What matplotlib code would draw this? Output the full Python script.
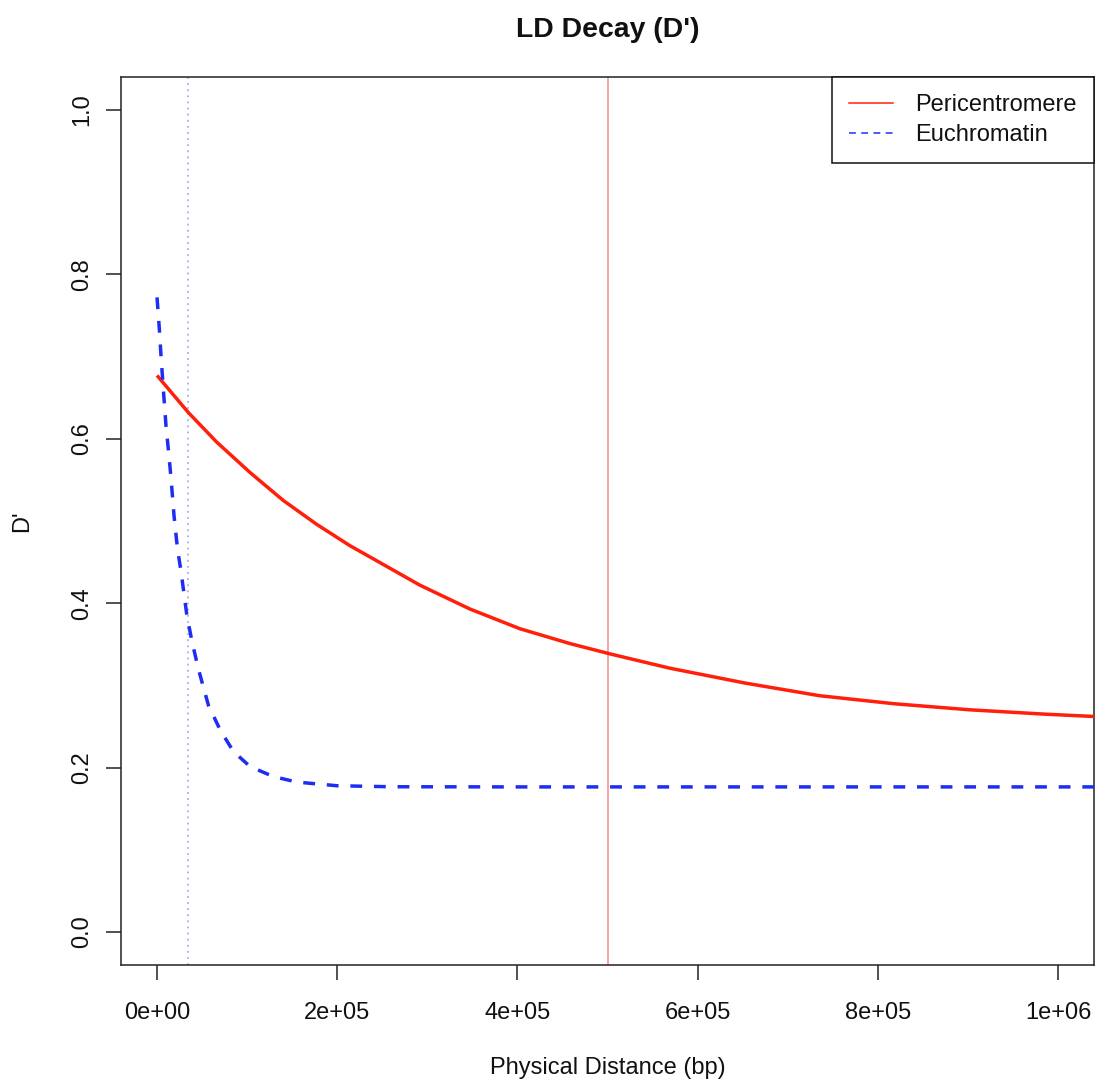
import matplotlib
matplotlib.use("Agg")
import matplotlib.pyplot as plt
from matplotlib.lines import Line2D

plt.rcParams['font.family'] = ['Liberation Sans', 'DejaVu Sans']

# LD decay curves (D' against physical distance in bp)
peri_x = [0, 34700, 66200, 103200, 140100, 177100, 214100, 240000, 291700,
          347200, 402700, 458100, 502000, 569100, 652200, 735400, 818600,
          901800, 985000, 1045000]
peri_y = [0.677, 0.632, 0.596, 0.559, 0.525, 0.496, 0.470, 0.454, 0.422,
          0.393, 0.369, 0.351, 0.3386, 0.321, 0.303, 0.2875, 0.2777,
          0.2704, 0.2651, 0.2620]

eu_x = [0, 2600, 4400, 7000, 10000, 13000, 15200, 18900, 22600, 26700,
        33000, 38500, 45900, 57000, 70000, 84800, 103300, 129100, 155000,
        200000, 260000, 400000, 700000, 1045000]
eu_y = [0.772, 0.733, 0.701, 0.660, 0.615, 0.582, 0.556, 0.506, 0.467,
        0.438, 0.386, 0.355, 0.320, 0.276, 0.246, 0.2196, 0.2013, 0.1892,
        0.1825, 0.178, 0.1768, 0.1766, 0.1766, 0.1766]

# Decay-distance markers for each region
peri_cutoff = 500000
eu_cutoff = 34000

series_labels = ['Pericentromere', 'Euchromatin']
x_ticks = [0, 200000, 400000, 600000, 800000, 1000000]
x_tick_labels = ['0e+00', '2e+05', '4e+05', '6e+05', '8e+05', '1e+06']
y_ticks = [0.0, 0.2, 0.4, 0.6, 0.8, 1.0]
y_tick_labels = ['0.0', '0.2', '0.4', '0.6', '0.8', '1.0']

RED = '#ff1f0a'
BLUE = '#1f2df2'

W, H = 1102, 1087
fig = plt.figure(figsize=(W / 100, H / 100), dpi=100)
ax = fig.add_axes([121 / W, 1 - 965 / H, (1094 - 121) / W, (965 - 77) / H])

ax.plot(peri_x, peri_y, color=RED, lw=2.5, solid_capstyle='butt',
        solid_joinstyle='round', zorder=3)
ax.plot(eu_x, eu_y, color=BLUE, lw=2.5, linestyle=(0, (3.4, 3.4)),
        dash_capstyle='butt', zorder=3)

ax.axvline(peri_cutoff, color='#f4898a', lw=1.1, zorder=2)
ax.axvline(eu_cutoff, color='#9d9cf6', lw=1.1, linestyle=(0, (1.2, 2.8)), zorder=2)

ax.set_xlim(-40000, 1040000)
ax.set_ylim(-0.04, 1.04)

ax.set_xticks(x_ticks)
ax.set_xticklabels(x_tick_labels)
ax.set_yticks(y_ticks)
ax.set_yticklabels(y_tick_labels, rotation=90, va='center')

for s in ax.spines.values():
    s.set_linewidth(1.1)
    s.set_color('#222222')
ax.tick_params(axis='both', direction='out', length=10.8, width=1.1,
               color='#222222', labelsize=17, labelcolor='#111111')
ax.tick_params(axis='x', pad=16)
ax.tick_params(axis='y', pad=9)

fig.text(607.5 / W, 1 - 30 / H, "LD Decay (D')", ha='center', va='center',
         fontsize=20.4, fontweight='bold', color='#111111')
fig.text(607.5 / W, 1 - 1068 / H, 'Physical Distance (bp)', ha='center',
         va='center', fontsize=17, color='#111111')
fig.text(22 / W, 1 - 521 / H, "D'", ha='center', va='center', rotation=90,
         fontsize=17, color='#111111')

handles = [
    Line2D([], [], color=RED, lw=1.1),
    Line2D([], [], color=BLUE, lw=1.1, linestyle=(0, (4.5, 3.5))),
]
leg = ax.legend(handles, series_labels, loc='upper right',
                bbox_to_anchor=(1, 1), borderaxespad=0, fontsize=17,
                frameon=True, fancybox=False, framealpha=1,
                edgecolor='#111111', handlelength=1.85, handletextpad=0.95,
                labelspacing=0.35, borderpad=0.72)
leg.get_frame().set_linewidth(1.1)
for t in leg.get_texts():
    t.set_color('#111111')

fig.savefig('out.png', dpi=100, facecolor='white')
